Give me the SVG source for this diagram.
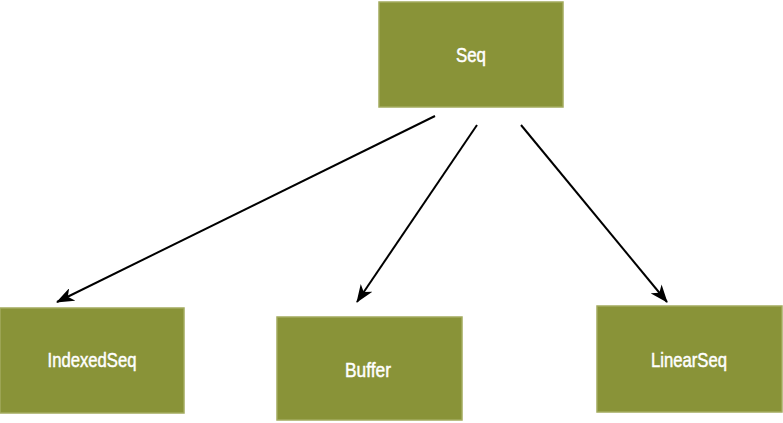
<svg xmlns="http://www.w3.org/2000/svg" width="783" height="423" viewBox="0 0 783 423">
<style>
.box{fill:#899338;stroke:#a3ab5e;stroke-width:1.5}
.lbl{font-family:"Liberation Sans",Arial,sans-serif;font-size:21px;fill:#ffffff;stroke:#ffffff;stroke-width:0.5;text-anchor:middle}
.edge{stroke:#000;stroke-width:2;fill:none}
</style>
<defs>
<marker id="ah" viewBox="0 0 18 14" refX="17" refY="7" markerWidth="18" markerHeight="14" markerUnits="userSpaceOnUse" orient="auto">
<path d="M0,0 L18,7 L0,14 L5,7 z" fill="#000"/>
</marker>
</defs>
<rect width="783" height="423" fill="#fff"/>
<g id="connectors">
<line class="edge" x1="435" y1="116" x2="57" y2="302" marker-end="url(#ah)"/>
<line class="edge" x1="477" y1="125" x2="357" y2="302" marker-end="url(#ah)"/>
<line class="edge" x1="521" y1="125" x2="667" y2="302" marker-end="url(#ah)"/>
</g>
<g id="seq">
<rect class="box" x="379" y="2" width="184" height="105"/>
<text class="lbl" x="471" y="62" textLength="30" lengthAdjust="spacingAndGlyphs">Seq</text>
</g>
<g id="indexedseq">
<rect class="box" x="0" y="308" width="184" height="105"/>
<text class="lbl" x="92" y="367" textLength="89" lengthAdjust="spacingAndGlyphs">IndexedSeq</text>
</g>
<g id="buffer">
<rect class="box" x="277" y="317" width="185" height="103"/>
<text class="lbl" x="368" y="377" textLength="46" lengthAdjust="spacingAndGlyphs">Buffer</text>
</g>
<g id="linearseq">
<rect class="box" x="597" y="306" width="185" height="106"/>
<text class="lbl" x="689" y="367" textLength="76" lengthAdjust="spacingAndGlyphs">LinearSeq</text>
</g>
</svg>
